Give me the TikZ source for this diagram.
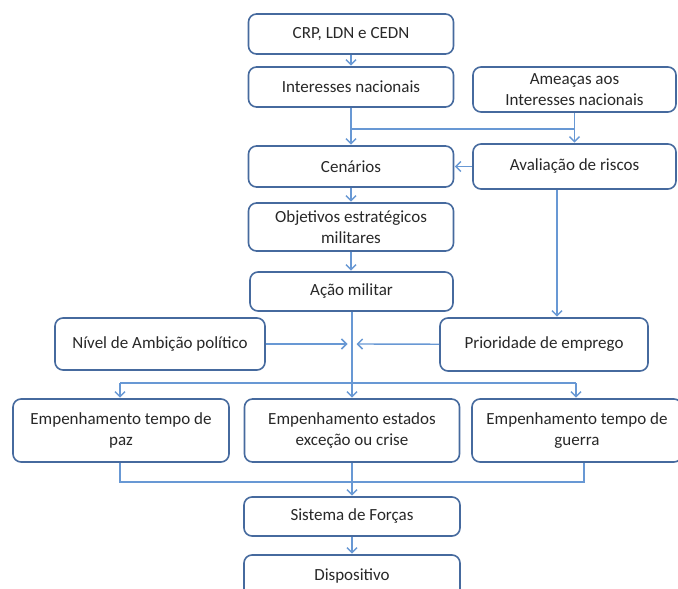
\documentclass[tikz,border=0pt]{standalone}
\usepackage{fontspec}
\setmainfont{Carlito}
\usetikzlibrary{arrows.meta}
\definecolor{boxblue}{RGB}{70,106,158}
\definecolor{lineblue}{RGB}{104,152,212}
\definecolor{txt}{RGB}{40,40,40}
\tikzset{
  box/.style={draw=boxblue, line width=1.6bp, rounded corners=8bp, fill=white,
    inner sep=0pt, align=center, text=txt,
    font=\fontsize{17bp}{20.5bp}\selectfont},
  ln/.style={draw=lineblue, line width=1.4bp},
  arr/.style={ln, -{Straight Barb[length=5bp,width=10bp,line width=1.5bp]}, shorten >=0.5bp}
}
\begin{document}
\begin{tikzpicture}[x=1bp,y=-1bp]
\useasboundingbox (0,0) rectangle (678,589);
\clip (0,0) rectangle (678,589);
\node[box, minimum width=205bp, minimum height=40bp] (crp) at (351,34) {CRP, LDN e CEDN};
\node[box, minimum width=205bp, minimum height=40bp] (int) at (351,87) {Interesses nacionais};
\node[box, minimum width=203bp, minimum height=45bp] (ame) at (574.5,89.5) {Ameaças aos\\Interesses nacionais};
\node[box, minimum width=205bp, minimum height=41bp] (cen) at (351,166.5) {Cenários};
\node[box, minimum width=203bp, minimum height=45bp] (ava) at (574.5,166.5) {Avaliação de riscos};
\node[box, minimum width=205bp, minimum height=48bp] (obj) at (351,227) {Objetivos estratégicos\\militares};
\node[box, minimum width=203bp, minimum height=39bp] (acao) at (351.5,291.5) {Ação militar};
\node[box, minimum width=210bp, minimum height=52bp] (niv) at (160,344) {Nível de Ambição político};
\node[box, minimum width=208bp, minimum height=53bp] (pri) at (544,344.5) {Prioridade de emprego};
\node[box, minimum width=216bp, minimum height=63bp] (paz) at (121,430.5) {Empenhamento tempo de\\paz};
\node[box, minimum width=215bp, minimum height=63bp] (est) at (352,430.5) {Empenhamento estados\\exceção ou crise};
\node[box, minimum width=210bp, minimum height=63bp] (gue) at (577,430.5) {Empenhamento tempo de\\guerra};
\node[box, minimum width=216bp, minimum height=39bp] (sis) at (352,516.5) {Sistema de Forças};
\node[box, minimum width=216bp, minimum height=42bp] (dis) at (352,576) {Dispositivo};

\coordinate (j1) at (351,129);
\coordinate (j2) at (574.5,129);
\coordinate (c557) at (557,0);
\coordinate (m) at (352,344);
\coordinate (h1) at (120,383);
\coordinate (h2) at (576,383);
\coordinate (b1) at (120,482);
\coordinate (b2) at (584,482);

\draw[arr] (crp) -- (int);
\draw[arr] (int) -- (cen);
\draw[arr] (ame) -- (ava);
\draw[ln] (j1) -- (j2);
\draw[arr] (ava) -- (cen);
\draw[arr] (cen) -- (obj);
\draw[arr] (obj.south) -- (obj.south |- acao.north);
\draw[arr] (ava.south -| c557) -- (pri.north -| c557);
\draw[arr] (acao.south -| m) -- (est.north -| m);
\draw[arr] (niv) -- ([xshift=-4bp]m);
\draw[arr] (pri) -- ([xshift=4bp]m);
\draw[ln] (h1) -- (h2);
\draw[arr] (h1) -- (paz.north -| h1);
\draw[arr] (h2) -- (gue.north -| h2);
\draw[ln] (paz.south -| b1) -- (b1) -- (b2) -- (gue.south -| b2);
\draw[arr] (est) -- (sis);
\draw[arr] (sis) -- (dis);
\end{tikzpicture}
\end{document}
